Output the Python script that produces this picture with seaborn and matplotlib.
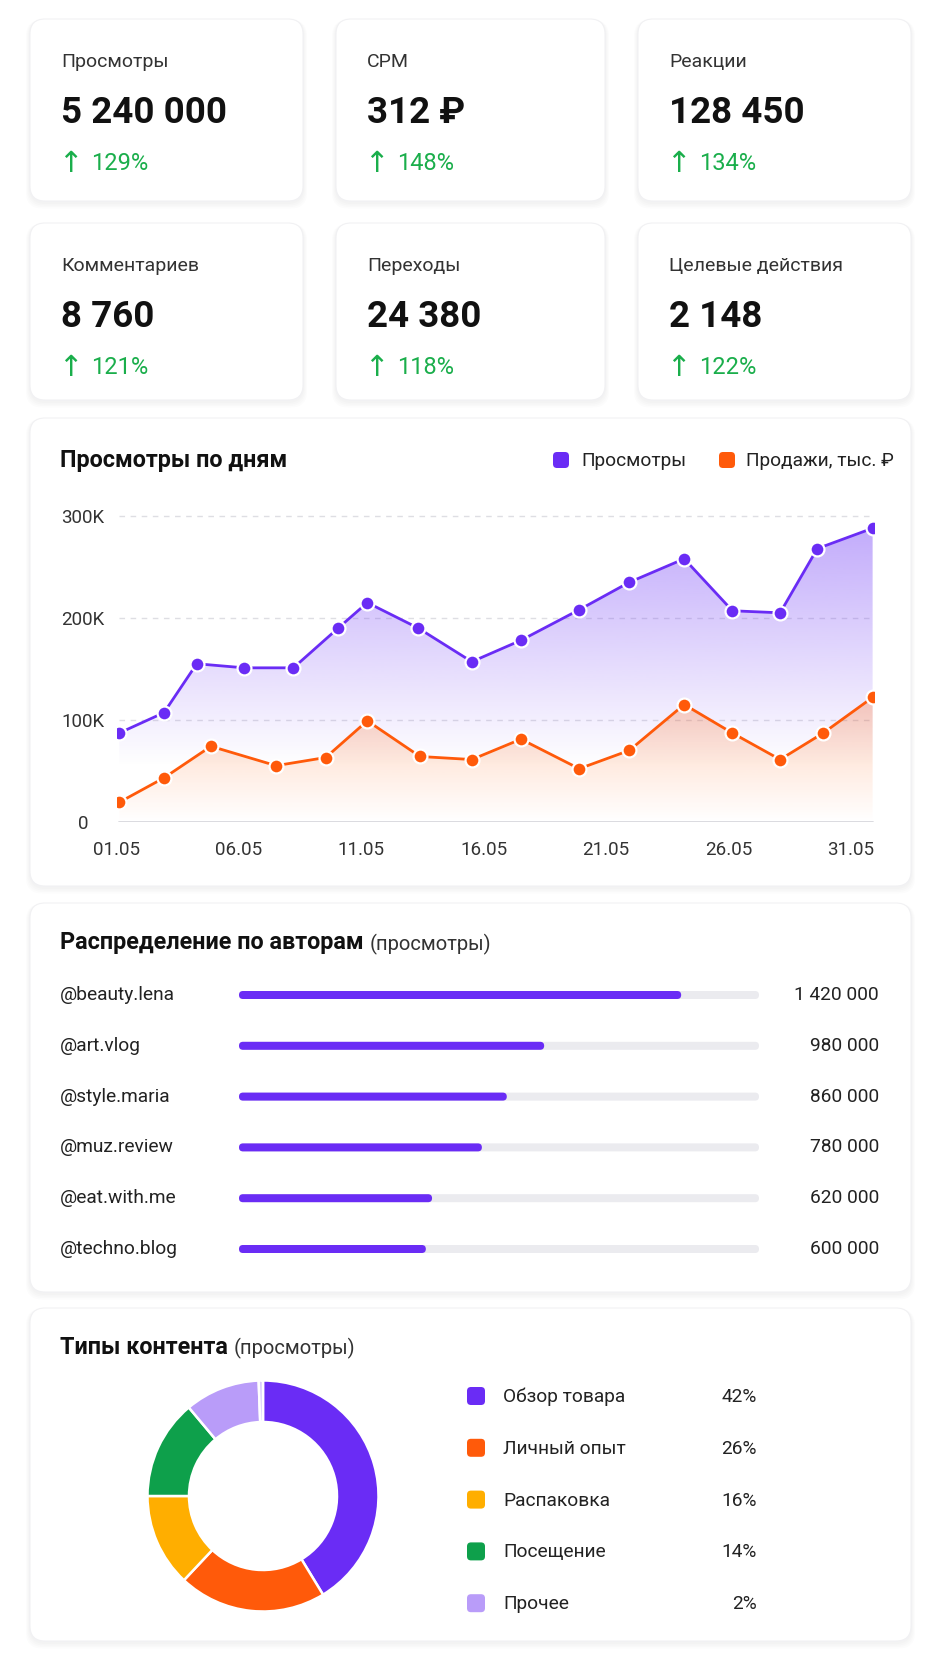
import numpy as np
import matplotlib
matplotlib.use('Agg')
import matplotlib.pyplot as plt
import seaborn as sns
from matplotlib.patches import FancyBboxPatch
from matplotlib.colors import to_rgb

# KPI cards
kpi_labels = ['Просмотры', 'CPM', 'Реакции', 'Комментариев', 'Переходы', 'Целевые действия']
kpi_values = ['5 240 000', '312 ₽', '128 450', '8 760', '24 380', '2 148']
kpi_growth = [129, 148, 134, 121, 118, 122]

# daily chart (day of May, thousands)
views_day = [1.11, 2.94, 4.28, 6.22, 8.23, 10.06, 11.25, 13.33, 15.52, 17.53,
             19.91, 21.96, 24.2, 26.17, 28.12, 29.64, 31.9]
views_k = [87, 107, 155, 151, 151, 190, 215, 190, 157, 178,
           208, 235, 258, 207, 205, 268, 288]
sales_day = [1.11, 2.94, 4.86, 7.52, 9.55, 11.25, 13.4, 15.52, 17.53,
             19.91, 21.96, 24.2, 26.17, 28.12, 29.88, 31.9]
sales_k = [19, 43, 74, 55, 63, 99, 64, 61, 81, 52, 70, 115, 87, 61, 87, 122]
date_ticks = [1, 6, 11, 16, 21, 26, 31]
date_labels = ['01.05', '06.05', '11.05', '16.05', '21.05', '26.05', '31.05']
y_ticks = [0, 100, 200, 300]
y_labels = ['0', '100K', '200K', '300K']

# authors
authors = ['@beauty.lena', '@art.vlog', '@style.maria', '@muz.review', '@eat.with.me', '@techno.blog']
author_views = [1420000, 980000, 860000, 780000, 620000, 600000]

# content types
content_types = ['Обзор товара', 'Личный опыт', 'Распаковка', 'Посещение', 'Прочее']
content_pct = [42, 26, 16, 14, 2]
slice_shares = [41.3, 20.7, 13.0, 13.9, 10.5, 0.6]

PURPLE = '#6a2cf5'
ORANGE = '#ff5a0a'
YELLOW = '#ffae00'
GREEN = '#0ea04b'
LAVENDER = '#b99cf9'
UP_GREEN = '#1aae4b'

sns.set_theme(style='white')
plt.rcParams['font.family'] = ['Roboto', 'DejaVu Sans']

W, H = 941, 1672
fig = plt.figure(figsize=(W / 100, H / 100), dpi=100)
fig.patch.set_facecolor('white')

bg = fig.add_axes([0, 0, 1, 1], zorder=0)
bg.set_xlim(0, W)
bg.set_ylim(H, 0)
bg.axis('off')


def px_axes(x0, y0, x1, y1, z=2):
    a = fig.add_axes([x0 / W, 1 - y1 / H, (x1 - x0) / W, (y1 - y0) / H], zorder=z)
    a.patch.set_alpha(0)
    return a


def card(x0, y0, x1, y1):
    for i, al in enumerate([0.012, 0.012, 0.012, 0.01]):
        bg.add_patch(FancyBboxPatch((x0 - 1 - i, y0 + 1), x1 - x0 + 2 + 2 * i, y1 - y0 + 2 + 1.5 * i,
                                    boxstyle='round,pad=0,rounding_size=16',
                                    fc='black', ec='none', alpha=al, zorder=1))
    bg.add_patch(FancyBboxPatch((x0, y0), x1 - x0, y1 - y0,
                                boxstyle='round,pad=0,rounding_size=15',
                                fc='white', ec='#f1f1f3', lw=0.8, zorder=2))


def rsquare(cx, cy, s, color):
    bg.add_patch(FancyBboxPatch((cx - s / 2, cy - s / 2), s, s,
                                boxstyle='round,pad=0,rounding_size=4',
                                fc=color, ec='none', zorder=3))


def two_part_title(x, y, bold, light):
    t = bg.text(x, y, bold, fontsize=16.8, fontweight='bold', color='#111111',
                va='center', ha='left', zorder=4)
    fig.canvas.draw()
    bb = t.get_window_extent()
    x_end = bb.x1 * W / fig.bbox.width
    bg.text(x_end + 6, y + 1, light, fontsize=14.5, color='#333333',
            va='center', ha='left', zorder=4)


# ---- KPI cards ----
col_x = [(30, 303), (336, 605), (638, 911)]
row_y = [(19, 201), (223, 400)]
for i, (lab, val, g) in enumerate(zip(kpi_labels, kpi_values, kpi_growth)):
    cx0, cx1 = col_x[i % 3]
    ry0, ry1 = row_y[i // 3]
    card(cx0, ry0, cx1, ry1)
    tx = cx0 + 31
    bg.text(tx, ry0 + 43, lab, fontsize=14, color='#333333', va='center', zorder=4)
    bg.text(tx, ry0 + 94, val, fontsize=26.5, fontweight='bold', color='#111111',
            va='center', zorder=4)
    bg.text(tx + 9, ry0 + 145, '↑', fontsize=21, color=UP_GREEN, ha='center',
            va='center', zorder=4, family='DejaVu Sans')
    bg.text(tx + 30, ry0 + 145, f'{g}%', fontsize=17, color=UP_GREEN, va='center', zorder=4)

# ---- daily chart ----
card(30, 418, 911, 886)
bg.text(60, 461, 'Просмотры по дням', fontsize=16.8, fontweight='bold', color='#111111',
        va='center', zorder=4)
rsquare(561, 460, 16, PURPLE)
bg.text(581, 461, 'Просмотры', fontsize=13.8, color='#222222', va='center', zorder=4)
rsquare(727, 460, 16, ORANGE)
bg.text(746, 461, 'Продажи, тыс. ₽', fontsize=13.8, color='#222222', va='center', zorder=4)

x_left, px_per_day = 116.5, 24.47
xmin, xmax = 1.0, 31.95
ymax = 310
y0px, px_per_k = 821.7, 305.7 / 300
ax = px_axes(x_left, y0px - ymax * px_per_k, x_left + (xmax - xmin) * px_per_day, y0px)


def gradient_fill(ax, xs, ys, color, a_top, a_bot, y_top, y_bot, z):
    xs = np.asarray(xs)
    poly = ax.fill_between(xs, ys, 0, color='none', lw=0)
    path = poly.get_paths()[0]
    n = 256
    grad = np.zeros((n, 1, 4))
    grad[:, :, :3] = to_rgb(color)
    grad[:, 0, 3] = np.linspace(a_top, a_bot, n)
    im = ax.imshow(grad, aspect='auto', extent=[xs.min(), xs.max(), y_bot, y_top],
                   origin='upper', zorder=z, interpolation='bicubic')
    im.set_clip_path(path, transform=ax.transData)


gradient_fill(ax, views_day, views_k, '#7d4cf7', 0.48, 0.0, 295, 55, 1)
gradient_fill(ax, sales_day, sales_k, '#ff6a1a', 0.30, 0.0, 125, 0, 2)

for yt in y_ticks[1:]:
    ax.plot([views_day[0], views_day[-1]], [yt, yt], color='#dedee3', lw=1,
            ls=(0, (4, 4)), zorder=0.5)
ax.plot([views_day[0], views_day[-1]], [0, 0], color='#d8d8dd', lw=1.3, zorder=0.5)

sns.lineplot(x=views_day, y=views_k, ax=ax, color=PURPLE, lw=2, marker='o',
             markersize=10, markeredgecolor='white', markeredgewidth=1.6, zorder=5)
sns.lineplot(x=sales_day, y=sales_k, ax=ax, color=ORANGE, lw=2, marker='o',
             markersize=10, markeredgecolor='white', markeredgewidth=1.6, zorder=5)

ax.set_xlim(xmin, xmax)
ax.set_ylim(0, ymax)
ax.set_xticks(date_ticks)
ax.set_xticklabels(date_labels)
ax.set_yticks(y_ticks)
ax.set_yticklabels(y_labels, ha='center')
ax.tick_params(axis='y', length=0, pad=24, labelsize=13.5, labelcolor='#333333')
ax.tick_params(axis='x', length=0, pad=14, labelsize=13.5, labelcolor='#333333')
ax.set_xlabel('')
ax.set_ylabel('')
for s in ax.spines.values():
    s.set_visible(False)
ax.grid(False)

# ---- authors ----
card(30, 903, 911, 1292)
two_part_title(60, 943, 'Распределение по авторам', '(просмотры)')

row_h = 50.8
bx0, bx1 = 239, 759
first_row = 995
ax2 = px_axes(bx0, first_row - row_h / 2, bx1, first_row - row_h / 2 + row_h * len(authors))
track_max = 1670000
bar_h = 8 / row_h
sns.barplot(x=[track_max] * len(authors), y=authors, ax=ax2, color='#ebebef',
            width=bar_h, orient='h', saturation=1)
sns.barplot(x=author_views, y=authors, ax=ax2, color=PURPLE,
            width=bar_h, orient='h', saturation=1)
ax2.set_xlim(0, track_max)
ax2.set_ylim(len(authors) - 0.5, -0.5)
ax2.axis('off')

# round the bar ends
fig.canvas.draw()
x_per_px = track_max / (bx1 - bx0)
y_per_px = 1 / row_h
patches = list(ax2.patches)
for p in patches:
    x, y, w, h = p.get_x(), p.get_y(), p.get_width(), p.get_height()
    fc = p.get_facecolor()
    p.remove()
    r = 4 * x_per_px
    ax2.add_patch(FancyBboxPatch((x, y), w, h,
                                 boxstyle=f'round,pad=0,rounding_size={r}',
                                 mutation_aspect=y_per_px / x_per_px,
                                 fc=fc, ec='none'))

for i, (a, v) in enumerate(zip(authors, author_views)):
    ax2.text((60 - bx0) / (bx1 - bx0), i, a, transform=ax2.get_yaxis_transform(),
             fontsize=13.8, color='#222222', va='center', ha='left')
    ax2.text((879 - bx0) / (bx1 - bx0), i, f'{v:,}'.replace(',', ' '),
             transform=ax2.get_yaxis_transform(),
             fontsize=13.8, color='#222222', va='center', ha='right')

# ---- content types ----
card(30, 1308, 911, 1641)
two_part_title(60, 1347, 'Типы контента', '(просмотры)')

R = 115.5
cx, cy = 263, 1496
lim = 1.04
ax3 = px_axes(cx - R * lim, cy - R * lim, cx + R * lim, cy + R * lim)
pie_colors = [PURPLE, ORANGE, YELLOW, GREEN, LAVENDER, '#d9cbfc']
ax3.pie(slice_shares, colors=pie_colors, startangle=90, counterclock=False, radius=1,
        wedgeprops=dict(width=(R - 74) / R, edgecolor='white', linewidth=1.8))
ax3.set_xlim(-lim, lim)
ax3.set_ylim(-lim, lim)
ax3.set_aspect('equal')
ax3.axis('off')

leg_y0, leg_dy = 1396, 51.8
for i, (name, pct) in enumerate(zip(content_types, content_pct)):
    yy = leg_y0 + i * leg_dy
    rsquare(476, yy, 18, pie_colors[i])
    bg.text(503, yy + 1, name, fontsize=13.8, color='#222222', va='center', zorder=4)
    bg.text(757, yy + 1, f'{pct}%', fontsize=13.8, color='#222222', va='center',
            ha='right', zorder=4)

fig.savefig('out.png', dpi=100, facecolor=fig.get_facecolor())
